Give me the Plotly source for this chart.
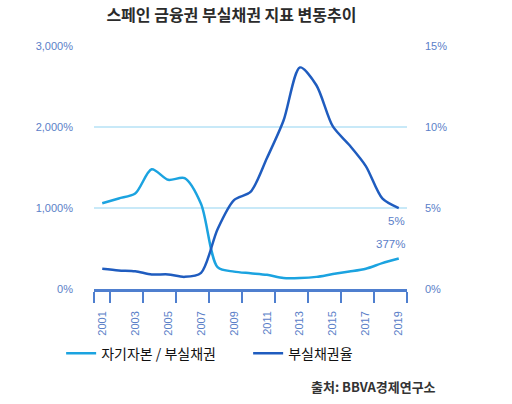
import plotly.graph_objects as go

# 스페인 금융권 부실채권 지표 (BBVA)
years = list(range(2001, 2020))
equity_to_npl = [1060, 1120, 1180, 1480, 1350, 1370, 1050, 270, 215, 195, 175, 135, 135, 150, 185, 215, 250, 320, 377]
npl_ratio = [1.25, 1.15, 1.1, 0.9, 0.9, 0.75, 1.0, 3.7, 5.5, 6.0, 8.1, 10.4, 13.7, 12.6, 10.05, 8.9, 7.6, 5.6, 5.0]

year_labels = [str(y) for y in range(2001, 2020, 2)]
tick_marks = [2000.5, 2001.5, 2003.5, 2005.5, 2007.5, 2009.5, 2011.5, 2013.5, 2015.5, 2017.5, 2019.5]
left_ticks = [0, 1000, 2000, 3000]
left_text = ['0%', '1,000%', '2,000%', '3,000%']
right_ticks = [0, 5, 10, 15]
right_text = ['0%', '5%', '10%', '15%']

light = '#1ba3e0'
dark = '#1f5cbf'
axis_blue = '#4f7fcf'
label_blue = '#5b80c8'
font_kr = 'Noto Sans CJK KR'

fig = go.Figure()
fig.add_trace(go.Scatter(x=years, y=equity_to_npl, name='자기자본 / 부실채권', mode='lines',
                         line=dict(color=light, width=2.5, shape='spline', smoothing=0.8), yaxis='y'))
fig.add_trace(go.Scatter(x=years, y=npl_ratio, name='부실채권율', mode='lines',
                         line=dict(color=dark, width=2.5, shape='spline', smoothing=0.8), yaxis='y2'))

# end-of-line value labels
fig.add_annotation(x=years[-1], y=npl_ratio[-1], yref='y2', text=f'{npl_ratio[-1]:.0f}%', showarrow=False,
                   xanchor='right', yanchor='top', xshift=8, yshift=-5,
                   font=dict(family='Liberation Sans', size=11.5, color=label_blue))
fig.add_annotation(x=years[-1], y=equity_to_npl[-1], yref='y', text=f'{equity_to_npl[-1]}%', showarrow=False,
                   xanchor='right', yanchor='bottom', xshift=8, yshift=7,
                   font=dict(family='Liberation Sans', size=11.5, color=label_blue))

fig.update_layout(
    width=512, height=404,
    margin=dict(l=94, r=105, t=46, b=115, autoexpand=False),
    paper_bgcolor='white', plot_bgcolor='white',
    title=dict(text='스페인 금융권 부실채권 지표 변동추이', x=0.452, xanchor='center', y=0.962, yanchor='middle',
               font=dict(family=font_kr, size=16, color='#2b2b2b', weight='bold')),
    xaxis=dict(range=[2000.5, 2019.5], tickvals=[int(t) for t in year_labels], ticktext=year_labels,
               tickangle=-90, ticks='', showgrid=False, zeroline=False,
               showline=True, linecolor=axis_blue, linewidth=2.5,
               minor=dict(tickmode='array', tickvals=tick_marks, ticks='outside', ticklen=11,
                          tickwidth=2, tickcolor=axis_blue, showgrid=False),
               ticklabelstandoff=15,
               tickfont=dict(family='Liberation Sans', size=11, color=label_blue)),
    yaxis=dict(range=[0, 3005], tickvals=left_ticks, ticktext=left_text, ticks='',
               showgrid=True, gridcolor='#c8e9f8', gridwidth=1.5, zeroline=False, showline=False,
               ticklabelstandoff=20,
               tickfont=dict(family='Liberation Sans', size=11, color=label_blue)),
    yaxis2=dict(range=[0, 15.025], tickvals=right_ticks, ticktext=right_text, ticks='',
                overlaying='y', side='right', showgrid=False, zeroline=False, showline=False,
                ticklabelstandoff=17,
                tickfont=dict(family='Liberation Sans', size=11, color=label_blue)),
    legend=dict(orientation='h', x=-0.105, xanchor='left', y=-0.2, yanchor='top',
                font=dict(family=font_kr, size=14, color='#111111'),
                itemwidth=30, entrywidth=142, entrywidthmode='pixels',
                traceorder='normal', bgcolor='rgba(0,0,0,0)'),
    showlegend=True,
)

fig.add_annotation(text='출처: BBVA경제연구소', xref='paper', yref='paper', x=1.1, y=-0.4,
                   xanchor='right', yanchor='middle', showarrow=False,
                   font=dict(family=font_kr, size=13, color='#333333', weight='bold'))

fig.write_html('out.html', config={'displayModeBar': False},
               post_script="document.body.style.margin='0px';")
